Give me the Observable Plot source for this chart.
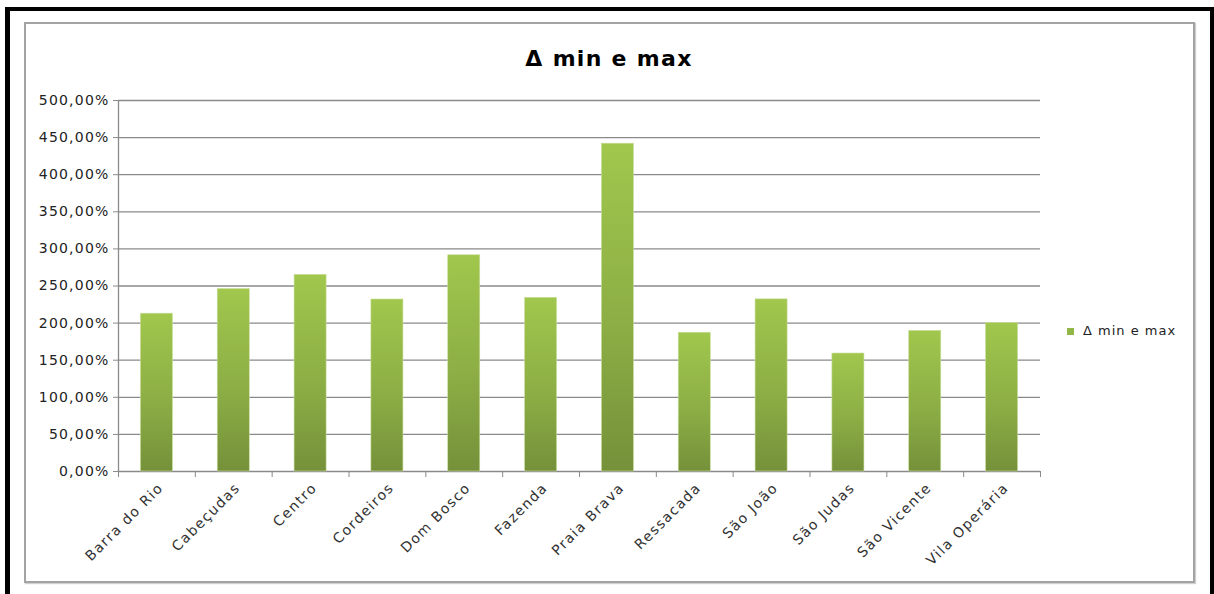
<!DOCTYPE html>
<html>
<head>
<meta charset="utf-8">
<script src="https://cdn.jsdelivr.net/npm/d3@7"></script>
<script src="https://cdn.jsdelivr.net/npm/@observablehq/plot@0.6"></script>
<style>
  html, body { margin: 0; padding: 0; background: #fff; overflow: hidden; }
  #wrap { position: relative; width: 1214px; height: 594px; }
  #outer { position: absolute; left: 5px; top: 7px; width: 1209px; height: 700px;
           border-left: 5px solid #000; border-top: 4px solid #000; border-right: 4px solid #000; box-sizing: border-box; }
  #inner { position: absolute; left: 24px; top: 22px; width: 1171px; height: 561px;
           border: 2px solid #a3a3a3; box-sizing: border-box; box-shadow: 1px 1px 1px #d0d0d0; }
  #title { position: absolute; left: 0; width: 1218px; top: 48px; text-align: center;
           font: bold 22px "DejaVu Sans", sans-serif; line-height: 22px; letter-spacing: 1.3px; color: #000; }
  #legend { position: absolute; left: 1067px; top: 324px; font: 13px "DejaVu Sans", sans-serif;
            line-height: 13px; letter-spacing: 1px; color: #222; white-space: nowrap; }
  #legend .sw { display: inline-block; width: 7px; height: 7px; background: #92b748; margin-right: 9px; vertical-align: 0px; }
  #chart { position: absolute; left: 0; top: 0; }
  g[aria-label="y-axis tick label"] text { letter-spacing: 1.2px; }
  g[aria-label="x-axis tick label"] text { letter-spacing: 1.4px; }
</style>
</head>
<body>
<div id="wrap">
  <div id="chart"></div>
  <div id="outer"></div>
  <div id="inner"></div>
  <div id="title">Δ min e max</div>
  <div id="legend"><span class="sw"></span>Δ min e max</div>
</div>
<script>
const categories = ["Barra do Rio", "Cabeçudas", "Centro", "Cordeiros", "Dom Bosco", "Fazenda",
  "Praia Brava", "Ressacada", "São João", "São Judas", "São Vicente", "Vila Operária"];
const values = [212.7, 245.9, 265.0, 231.8, 291.4, 234.1, 441.8, 187.0, 232.0, 159.0, 189.5, 200.0];
const yTicks = [0, 50, 100, 150, 200, 250, 300, 350, 400, 450, 500];
const seriesName = "Δ min e max";

const data = categories.map((c, i) => ({category: c, value: values[i]}));

const W = 1214, H = 594;
const mL = 118, mR = 174, mT = 100, mB = 123;
const step = (W - mL - mR) / categories.length;

const gradientDefs = () => {
  const ns = "http://www.w3.org/2000/svg";
  const defs = document.createElementNS(ns, "defs");
  const lg = document.createElementNS(ns, "linearGradient");
  lg.setAttribute("id", "barGrad");
  lg.setAttribute("x1", "0"); lg.setAttribute("y1", "0");
  lg.setAttribute("x2", "0"); lg.setAttribute("y2", "1");
  [["0%", "#a1c74d"], ["55%", "#8cae45"], ["100%", "#75913a"]].forEach(([o, c]) => {
    const s = document.createElementNS(ns, "stop");
    s.setAttribute("offset", o); s.setAttribute("stop-color", c);
    lg.appendChild(s);
  });
  defs.appendChild(lg);
  return defs;
};

const fmt = d => d.toFixed(2).replace(".", ",") + "%";

const chart = Plot.plot({
  width: W, height: H,
  marginLeft: mL, marginRight: mR, marginTop: mT, marginBottom: mB,
  style: {fontFamily: "DejaVu Sans, sans-serif", background: "transparent", overflow: "visible"},
  x: {domain: categories, paddingInner: 0.583, paddingOuter: 0.2915, round: false, axis: null},
  y: {domain: [0, 500], axis: null},
  marks: [
    gradientDefs,
    Plot.ruleY(yTicks, {stroke: "#8a8a8a", strokeWidth: 1.3}),
    Plot.ruleX([categories[0]], {y1: 0, y2: 500, dx: -step / 2, stroke: "#8a8a8a", strokeWidth: 1.3}),
    Plot.barY(data, {x: "category", y: "value", fill: "url(#barGrad)", stroke: "#c9de9c", strokeWidth: 0.6}),
    Plot.axisY({ticks: yTicks, tickSize: 5, tickPadding: 4, tickFormat: fmt, fontSize: 14,
      fill: "#222", stroke: "#8a8a8a", label: null}),
    Plot.axisX({tickSize: 6, tickFormat: () => "", dx: -step / 2, stroke: "#8a8a8a", label: null}),
    Plot.axisX({ticks: [categories[categories.length - 1]], tickSize: 6, tickFormat: () => "", dx: step / 2, stroke: "#8a8a8a", label: null}),
    Plot.axisX({tickSize: 0, tickRotate: -45, tickPadding: 14, dx: 4, fontSize: 14, fill: "#333", label: null})
  ]
});
document.getElementById("chart").appendChild(chart);
</script>
</body>
</html>
